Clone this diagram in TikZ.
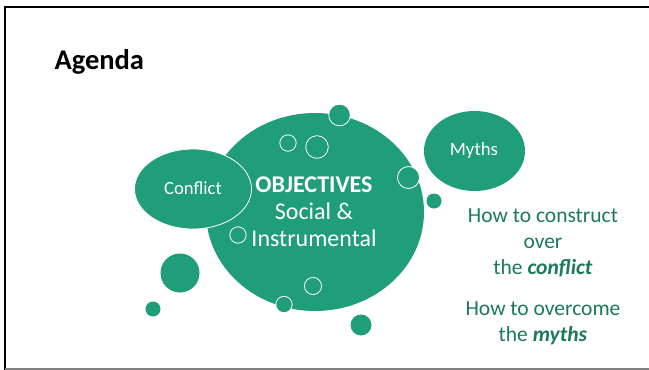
\documentclass[tikz,border=0pt]{standalone}
\usepackage{fontspec}
\setmainfont{Carlito}
\definecolor{bubble}{HTML}{209E79}
\definecolor{textgreen}{HTML}{1B7A5C}
\tikzset{
  bubble/.style={fill=bubble, draw=none},
  rimbubble/.style={fill=bubble, draw=white, line width=0.8pt},
  hollow/.style={draw=white, line width=0.8pt},
  goal/.style={text=textgreen, font=\fontsize{21.5}{26}\selectfont, align=center}
}

\begin{document}
\begin{tikzpicture}[x=1pt, y=-1pt]
      \useasboundingbox (0, 0) rectangle (649, 370);

      % frame
      \draw [line width=2.2pt] (5, 370) -- (5, 7) -- (649, 7);
      \draw [gray, line width=1.5pt] (5, 369) -- (649, 369);

      \node [anchor=west, font=\bfseries\fontsize{28.5}{32}\selectfont] (agenda) at (51, 62) {Agenda};

      % bubbles
      \fill [bubble] (315, 212) ellipse [x radius=109, y radius=99];
      \fill [bubble] (474.5, 151) ellipse [x radius=50.5, y radius=40];
      \draw [rimbubble] (193, 189) ellipse [x radius=58.5, y radius=40];

      \draw [rimbubble] (339.5, 115) circle (10.8);
      \draw [rimbubble] (408.5, 177.5) circle (11);
      \draw [rimbubble] (284, 304.5) circle (8.2);
      \fill [bubble] (434, 201) circle (7.5);
      \fill [bubble] (180, 273) circle (19.5);
      \fill [bubble] (153, 309) circle (7.5);
      \fill [bubble] (361, 325) circle (10.5);

      \draw [hollow] (288, 143) circle (8.2);
      \draw [hollow] (317, 147) circle (11.3);
      \draw [hollow] (238, 235) circle (8.2);
      \draw [hollow] (313, 286) circle (8.6);

      % labels
      \node [text=white, font=\fontsize{18.6}{22}\selectfont] (conflict) at (193, 188) {Conflict};
      \node [text=white, font=\fontsize{18.8}{22}\selectfont] (myths) at (474, 150) {Myths};
      \node [text=white, font=\fontsize{24}{27}\selectfont, align=center] (objectives) at (314, 212)
        {\textbf{OBJECTIVES}\\Social \&\\Instrumental};

      \node [goal] (construct) at (543, 243) {How to construct\\over\\the \textbf{\textit{conflict}}};
      \node [goal] (overcome) at (543, 323) {How to overcome\\the \textbf{\textit{myths}}};
    \end{tikzpicture}
\end{document}
